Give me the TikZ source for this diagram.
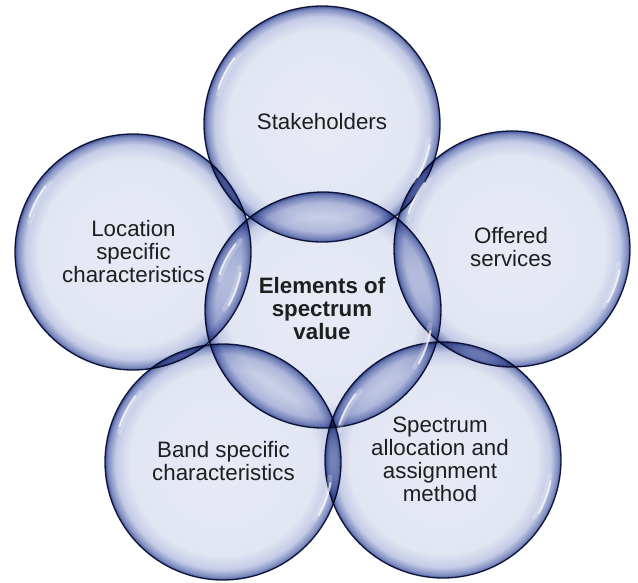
\documentclass[tikz,border=0pt]{standalone}
\usepackage{fontspec}
\setmainfont{Liberation Sans}
\definecolor{ballin}{HTML}{E8EBF6}
\definecolor{ballinb}{HTML}{E2E6F3}
\definecolor{ballmid}{HTML}{C4CBE5}
\definecolor{ballout}{HTML}{7E8CC0}
\definecolor{balledge}{HTML}{44559A}
\definecolor{edgecol}{HTML}{1C2448}
\definecolor{txtcol}{HTML}{1E1E1E}
\pgfdeclareradialshading{ballshade}{\pgfpoint{0bp}{0bp}}{color(0bp)=(ballin); color(19.8bp)=(ballinb); color(22.8bp)=(ballmid); color(24.4bp)=(ballout); color(25bp)=(balledge); color(50bp)=(balledge)}
\tikzset{
  ball/.style={circle, minimum size=236pt, inner sep=0pt, shading=ballshade, draw=edgecol, line width=1.3pt},
  hlwide/.style={draw=white, line width=5pt, opacity=0.22, line cap=round},
  hlthin/.style={draw=white, line width=2pt, opacity=0.7, line cap=round},
  lbl/.style={font=\fontsize{22.3}{23}\selectfont, align=center, text=txtcol, inner sep=0pt},
  lblb/.style={lbl, font=\fontsize{22.3}{23}\selectfont\bfseries}
}
\newcommand\hlite[1]{%
  \draw[hlwide] (#1.center) ++(140:108pt) arc[start angle=140, end angle=164, radius=108pt];
  \draw[hlthin] (#1.center) ++(143:109.5pt) arc[start angle=143, end angle=161, radius=109.5pt];
  \draw[hlwide] (#1.center) ++(-32:108pt) arc[start angle=-32, end angle=-8, radius=108pt];
  \draw[hlthin] (#1.center) ++(-29:109.5pt) arc[start angle=-29, end angle=-11, radius=109.5pt];
}
\begin{document}
\begin{tikzpicture}[x=1pt,y=-1pt]
\fill[white] (0,0) rectangle (638,582);
\useasboundingbox (0,0) rectangle (638,582);
\begin{scope}[blend mode=multiply]
  \node[ball] (C) at (323,310) {};
  \node[ball] (T) at (322,124) {};
  \node[ball] (L) at (133,252) {};
  \node[ball] (R) at (512,249) {};
  \node[ball] (BL) at (223,462) {};
  \node[ball] (BR) at (443,460) {};
\end{scope}
\hlite{C}\hlite{T}\hlite{L}\hlite{R}\hlite{BL}\hlite{BR}
\node[lbl, anchor=base] (tT) at (322,129) {Stakeholders};
\node[lbl, anchor=base] (tL) at (133.5,282) {Location\\specific\\characteristics};
\node[lbl, anchor=base] (tR) at (511,266) {Offered\\services};
\node[lblb, anchor=base] (tC) at (322,339) {Elements of\\spectrum\\value};
\node[lbl, anchor=base] (tBR) at (440,501) {Spectrum\\allocation and\\assignment\\method};
\node[lbl, anchor=base] (tBL) at (223.5,480) {Band specific\\characteristics};
\end{tikzpicture}
\end{document}
